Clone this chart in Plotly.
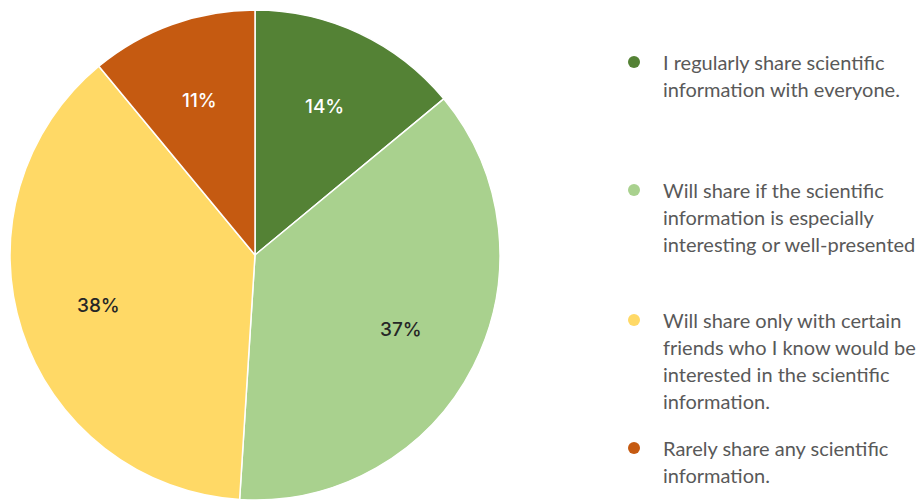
import math
import plotly.graph_objects as go

# Survey: how respondents share scientific information
labels = [
    "I regularly share scientific<br>information with everyone.",
    "Will share if the scientific<br>information is especially<br>interesting or well-presented",
    "Will share only with certain<br>friends who I know would be<br>interested in the scientific<br>information.",
    "Rarely share any scientific<br>information.",
]
values = [14, 37, 38, 11]
colors = ["#548235", "#A9D18E", "#FFD966", "#C55A11"]
label_colors = ["#FFFFFF", "#262626", "#262626", "#FFFFFF"]

# vertical anchor (pixels from top) of each legend entry
legend_y_px = [62, 190, 320, 448]

W, H = 919, 500
# pie geometry in pixels
CX, CY, R = 255, 255, 245
LABEL_R = 0.67          # percent labels sit at this fraction of the radius
LINE_H = 27             # legend line height in pixels

fig = go.Figure()
fig.add_trace(go.Pie(
    labels=labels,
    values=values,
    sort=False,
    direction="clockwise",
    rotation=0,
    marker=dict(colors=colors, line=dict(color="white", width=1.5)),
    textinfo="none",
    domain=dict(x=[(CX - R) / W, (CX + R) / W], y=[1 - (CY + R) / H, 1 - (CY - R) / H]),
    showlegend=False,
    hoverinfo="label+percent",
))

# percentage labels at each slice's mid-angle
total = sum(values)
cum = 0
for v, tc in zip(values, label_colors):
    mid = (cum + v / 2) / total * 2 * math.pi   # clockwise from 12 o'clock
    cum += v
    px = CX + LABEL_R * R * math.sin(mid)
    py = CY - LABEL_R * R * math.cos(mid)
    fig.add_annotation(
        x=px / W, y=1 - py / H, xref="paper", yref="paper",
        xanchor="center", yanchor="middle", showarrow=False,
        text=f"{round(v / total * 100)}%",
        font=dict(family="Inter", size=19, color=tc, weight=500),
    )

# legend: colored dot + wrapped label lines
for lab, col, ypx in zip(labels, colors, legend_y_px):
    fig.add_shape(
        type="circle", xref="paper", yref="paper",
        xsizemode="pixel", ysizemode="pixel",
        xanchor=634 / W, yanchor=1 - ypx / H,
        x0=-6, x1=6, y0=-6, y1=6,
        fillcolor=col, line=dict(width=0),
    )
    for i, line in enumerate(lab.split("<br>")):
        fig.add_annotation(
            x=661 / W, y=1 - (ypx + i * LINE_H) / H, xref="paper", yref="paper",
            xanchor="left", yanchor="middle", align="left",
            text=line, showarrow=False,
            font=dict(family="Lato", size=20, color="#595959"),
        )

fig.update_layout(
    width=W, height=H,
    margin=dict(l=0, r=0, t=0, b=0),
    paper_bgcolor="white", plot_bgcolor="white",
)

fig.write_html("out.html")
